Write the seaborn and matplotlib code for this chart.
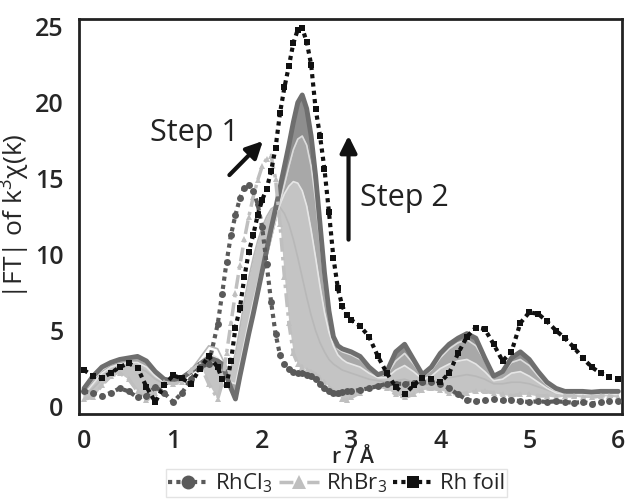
import numpy as np
import pandas as pd
import seaborn as sns
import matplotlib.pyplot as plt

sns.set_theme(style="white")
plt.rcParams['font.family'] = ['Open Sans', 'DejaVu Sans']
plt.rcParams['mathtext.fontset'] = 'custom'
plt.rcParams['mathtext.rm'] = 'Open Sans'
plt.rcParams['mathtext.default'] = 'regular'

# radial distance grid (finer around the first shell)
r = [0.0, 0.1, 0.2, 0.3, 0.4, 0.5, 0.6, 0.7, 0.8, 0.9, 1.0, 1.1, 1.2, 1.3, 1.4, 1.5,
     1.55, 1.6, 1.65, 1.7, 1.75, 1.8, 1.85, 1.9, 1.95, 2.0, 2.05, 2.1, 2.15, 2.2, 2.25,
     2.3, 2.35, 2.4, 2.45, 2.5, 2.55, 2.6, 2.65, 2.7, 2.75, 2.8, 2.85, 2.9, 2.95, 3.0,
     3.1, 3.2, 3.3, 3.4, 3.5, 3.6, 3.7, 3.8, 3.9, 4.0, 4.1, 4.2, 4.3, 4.4, 4.5,
     4.6, 4.7, 4.8, 4.9, 5.0, 5.1, 5.2, 5.3, 5.4, 5.5, 5.6, 5.7, 5.8, 5.9, 6.0]

rh_foil = [2.4, 2.0, 1.9, 2.2, 2.6, 2.85, 2.55, 1.3, 0.3, 1.4, 2.05, 1.85, 1.5, 2.5, 3.3, 2.6,
           1.8, 1.4, 3.0, 5.2, 6.5, 8.5, 10.2, 11.3, 12.6, 13.6, 14.3, 15.5, 17.0, 19.3, 21.0,
           22.4, 23.9, 24.8, 24.9, 24.0, 22.5, 19.6, 17.8, 15.6, 12.8, 9.8, 7.8, 6.6, 6.0, 5.7,
           5.3, 4.6, 3.3, 2.2, 1.3, 0.8, 1.4, 1.9, 1.8, 1.6, 2.2, 3.5, 4.6, 5.2, 5.1,
           4.1, 3.0, 3.6, 5.5, 6.2, 6.1, 5.6, 5.0, 4.5, 3.9, 3.2, 2.6, 2.2, 1.95, 1.8]

rhcl3 = [1.0, 0.9, 0.7, 0.9, 1.2, 1.0, 0.6, 0.7, 1.3, 0.9, 0.3, 0.9, 1.8, 2.6, 2.8, 5.4,
         7.4, 9.5, 11.3, 12.6, 13.7, 14.4, 14.6, 14.2, 13.3, 11.8, 9.4, 6.9, 4.8, 3.4, 2.8,
         2.5, 2.3, 2.2, 2.2, 2.1, 2.0, 1.8, 1.5, 1.2, 1.0, 0.9, 0.9, 0.95, 1.0, 1.0,
         1.1, 1.2, 1.35, 1.5, 1.5, 1.5, 1.55, 1.6, 1.6, 1.5, 1.2, 0.8, 0.45, 0.35, 0.4,
         0.5, 0.4, 0.45, 0.35, 0.3, 0.35, 0.3, 0.35, 0.3, 0.25, 0.3, 0.2, 0.3, 0.35, 0.35]

rhbr3 = [0.5, 0.6, 1.4, 2.0, 2.2, 1.8, 1.0, 0.4, 0.9, 1.6, 1.5, 1.6, 2.4, 2.8, 1.5, 0.5,
         1.5, 3.5, 5.5, 7.5, 9.3, 11.0, 12.5, 13.8, 14.9, 15.8, 16.3, 16.5, 15.0, 12.0, 8.5,
         5.5, 3.5, 2.8, 2.6, 2.4, 2.3, 2.1, 1.9, 1.6, 1.3, 1.0, 0.8, 0.5, 0.4, 0.6,
         0.9, 1.3, 1.4, 1.2, 0.8, 0.6, 0.8, 1.1, 1.2, 1.1, 0.9, 0.8, 0.9, 1.0, 1.0,
         0.9, 0.8, 0.7, 0.8, 0.8, 0.7, 0.7, 0.6, 0.7, 0.7, 0.6, 0.6, 0.7, 0.7, 0.6]

# in-situ spectra recorded between RhBr3 and the final state
stage_1 = [0.7, 1.2, 1.8, 2.3, 2.6, 2.7, 2.6, 2.3, 1.8, 1.5, 1.5, 1.8, 2.4, 3.2, 4.0, 3.8,
           3.2, 2.6, 2.6, 3.5, 5.2, 7.0, 8.5, 9.8, 10.9, 11.8, 12.5, 13.0, 13.2, 13.1, 12.7,
           12.0, 11.0, 9.8, 8.5, 7.2, 6.0, 5.0, 4.2, 3.6, 3.1, 2.8, 2.6, 2.4, 2.3, 2.2,
           2.0, 1.8, 1.7, 1.6, 1.7, 1.8, 1.6, 1.4, 1.5, 1.7, 1.9, 2.0, 2.1, 2.0, 1.8,
           1.5, 1.5, 1.6, 1.6, 1.5, 1.3, 1.1, 0.9, 0.8, 0.8, 0.8, 0.8, 0.8, 0.8, 0.8]

stage_2 = [0.8, 1.5, 2.2, 2.6, 2.8, 2.9, 2.9, 2.6, 2.0, 1.6, 1.6, 1.8, 2.2, 2.9, 3.5, 3.2,
           2.8, 2.2, 1.6, 1.5, 2.8, 4.2, 5.6, 6.9, 8.1, 9.3, 10.4, 11.4, 12.4, 13.3, 14.0,
           14.5, 14.8, 14.7, 14.2, 13.2, 11.6, 9.8, 7.9, 6.2, 4.9, 4.0, 3.4, 3.1, 2.9, 2.8,
           2.6, 2.2, 1.9, 1.9, 2.4, 2.7, 2.3, 1.8, 2.0, 2.5, 2.8, 3.0, 3.1, 2.8, 2.3,
           1.7, 1.8, 2.2, 2.3, 2.0, 1.6, 1.2, 0.9, 0.8, 0.8, 0.8, 0.8, 0.8, 0.8, 0.8]

stage_3 = [1.0, 1.8, 2.4, 2.8, 3.0, 3.1, 3.2, 2.9, 2.2, 1.7, 1.6, 1.8, 2.2, 2.7, 3.1, 2.9,
           2.6, 1.9, 1.2, 0.8, 2.2, 3.5, 4.8, 6.0, 7.3, 8.6, 9.8, 11.0, 12.2, 13.4, 14.6,
           15.8, 16.9, 17.6, 17.8, 17.2, 15.8, 13.6, 10.8, 8.0, 5.8, 4.4, 3.8, 3.6, 3.5, 3.4,
           3.1, 2.5, 2.0, 2.1, 3.0, 3.5, 2.8, 2.0, 2.4, 3.2, 3.8, 4.2, 4.4, 4.0, 3.0,
           1.9, 2.2, 2.9, 3.1, 2.7, 2.0, 1.4, 1.0, 0.9, 0.9, 0.9, 0.9, 0.9, 0.9, 0.9]

final = [1.2, 2.0, 2.6, 2.9, 3.1, 3.2, 3.3, 3.0, 2.3, 1.8, 1.7, 1.9, 2.3, 2.8, 3.2, 3.0,
         2.8, 2.0, 1.2, 0.5, 2.0, 3.4, 4.8, 6.1, 7.5, 8.9, 10.3, 11.7, 13.0, 14.4, 15.8,
         17.2, 18.7, 20.0, 20.5, 19.6, 17.8, 15.2, 12.0, 8.8, 6.3, 4.6, 4.0, 3.8, 3.7, 3.6,
         3.3, 2.6, 2.1, 2.3, 3.6, 4.1, 3.1, 2.1, 2.6, 3.5, 4.1, 4.5, 4.8, 4.5, 3.2,
         2.0, 2.3, 3.2, 3.6, 3.1, 2.3, 1.6, 1.2, 1.0, 1.0, 1.0, 0.95, 1.0, 1.0, 1.0]

df = pd.DataFrame({'r': r, 'RhCl3': rhcl3, 'RhBr3': rhbr3, 'foil': rh_foil,
                   's1': stage_1, 's2': stage_2, 's3': stage_3, 'final': final})

fig = plt.figure(figsize=(6.25, 4.99), dpi=100)
ax = fig.add_axes([0.126, 0.17, 0.869, 0.792])

# shaded band of the intermediate spectra
ax.fill_between(df['r'], np.minimum(df['s1'], df['RhBr3']), df['s2'], color='#c4c4c4', lw=0, zorder=1)
ax.fill_between(df['r'], df['s2'], df['s3'], color='#a8a8a8', lw=0, zorder=1)
ax.fill_between(df['r'], df['s3'], df['final'], color='#8e8e8e', lw=0, zorder=1)
for col, c in [('s1', '#b8b8b8'), ('s2', '#e6e6e6'), ('s3', '#dcdcdc')]:
    sns.lineplot(x='r', y=col, data=df, ax=ax, color=c, lw=1.2, zorder=2)
sns.lineplot(x='r', y='final', data=df, ax=ax, color='#6e6e6e', lw=3.5, zorder=3)

sns.lineplot(x='r', y='RhBr3', data=df, ax=ax, color='#bfbfbf', lw=2.5,
             linestyle=(0, (4, 1.5, 1, 1.5)), marker='^', markersize=5, markeredgewidth=0,
             label='RhBr$_3$', zorder=4)
sns.lineplot(x='r', y='RhCl3', data=df, ax=ax, color='#5a5a5a', lw=3,
             linestyle=(0, (1, 1)), marker='o', markersize=5, markeredgewidth=0,
             label='RhCl$_3$', zorder=5)
sns.lineplot(x='r', y='foil', data=df, ax=ax, color='#111111', lw=3,
             linestyle=(0, (1, 1)), marker='s', markersize=4.5, markeredgewidth=0,
             label='Rh foil', zorder=6)

ax.annotate('', xy=(2.03, 17.6), xytext=(1.61, 15.1),
            arrowprops=dict(arrowstyle='-|>', lw=3, color='#111111', mutation_scale=25))
ax.annotate('', xy=(2.97, 18.0), xytext=(2.97, 10.8),
            arrowprops=dict(arrowstyle='-|>', lw=3, color='#111111', mutation_scale=25))
ax.text(0.74, 18.0, 'Step 1', fontsize=22, va='center', color='#222222')
ax.text(3.1, 13.7, 'Step 2', fontsize=22, va='center', color='#222222')

ax.set_xlim(-0.06, 6.04)
ax.set_ylim(-0.5, 25.5)
ax.set_xticks([0, 1, 2, 3, 4, 5, 6])
ax.set_yticks([0, 5, 10, 15, 20, 25])
ax.tick_params(direction='in', length=9, width=2, labelsize=18, pad=11, color='#222222')
for lab in ax.get_xticklabels() + ax.get_yticklabels():
    lab.set_fontweight('semibold')
for s in ax.spines.values():
    s.set_linewidth(2)
    s.set_color('#222222')
ax.set_xlabel('r / Å', fontsize=15, fontweight='semibold')
ax.xaxis.set_label_coords(0.505, -0.082)
ax.set_ylabel('|FT| of k$^3$χ(k)', fontsize=19, labelpad=2)

h, l = ax.get_legend_handles_labels()
order = [l.index('RhCl$_3$'), l.index('RhBr$_3$'), l.index('Rh foil')]
ax.legend([h[i] for i in order], [l[i] for i in order], loc='lower center',
          bbox_to_anchor=(0.475, -0.238), ncol=3, fontsize=16, frameon=True,
          fancybox=False, edgecolor='#dddddd', handlelength=1.8, handletextpad=0.3,
          columnspacing=0.3, borderpad=0.1, markerscale=2.0)

plt.savefig('out.png', dpi=100)
